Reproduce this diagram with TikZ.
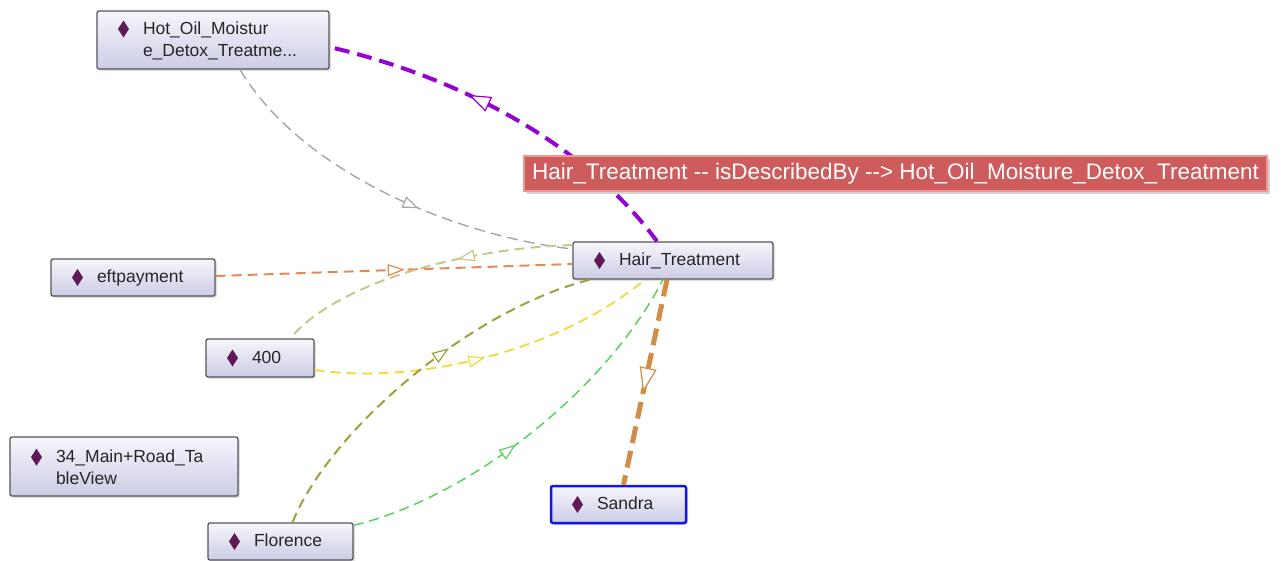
\documentclass[tikz,border=0pt]{standalone}
\usepackage{fontspec}
\setmainfont{Liberation Sans}
\usetikzlibrary{arrows.meta,decorations.markings,shadows}

\definecolor{diacol}{RGB}{95,25,85}
\definecolor{boxline}{RGB}{85,85,90}
\definecolor{boxtop}{RGB}{246,246,252}
\definecolor{boxbot}{RGB}{204,204,230}
\definecolor{selblue}{RGB}{20,20,240}
\definecolor{tipfill}{RGB}{206,92,92}
\definecolor{tipline}{RGB}{238,150,150}
\definecolor{cpurple}{RGB}{150,0,210}
\definecolor{cgray}{RGB}{165,165,165}
\definecolor{corange}{RGB}{226,140,85}
\definecolor{ckhaki}{RGB}{200,200,140}
\definecolor{cyellow}{RGB}{245,215,60}
\definecolor{colive}{RGB}{160,160,60}
\definecolor{cgreen}{RGB}{90,210,90}
\definecolor{cbrown}{RGB}{210,140,70}

% individual marker drawn in front of each label
\newcommand\dmd{\tikz[baseline=-5pt]\fill[diacol, sharp corners] (0pt,0pt)--(5.5pt,8.5pt)--(11pt,0pt)--(5.5pt,-8.5pt)--cycle;}
\newcommand\lead{\hspace*{21pt}\makebox[25pt][l]{\dmd}}

\tikzset{
  indiv/.style={rectangle, rounded corners=2pt, draw=boxline, line width=1.3pt,
    top color=boxtop, bottom color=boxbot,
    drop shadow={shadow xshift=2pt, shadow yshift=-2pt, opacity=0.25},
    inner xsep=0pt, inner ysep=0pt, align=left, text=black!85,
    font=\fontsize{17.5}{22}\selectfont},
  rel/.style 2 args={postaction=decorate, decoration={markings,
    mark=at position #1 with {\arrow{Triangle[#2, fill=white, line width=1.2pt]}}}},
  thin/.style={line width=1.6pt, dash pattern=on 10pt off 6pt},
}

\begin{document}
\begin{tikzpicture}[x=1pt, y=-1pt]
\useasboundingbox (0,0) rectangle (1282,560);

% individuals
\node[indiv, text width=232pt, minimum height=58pt] (hot) at (213,40)
  {\lead Hot\_Oil\_Moistur\\\hspace*{46pt}e\_Detox\_Treatme...};
\node[indiv, text width=200pt, minimum height=37pt] (ht) at (673,260.5) {\lead Hair\_Treatment};
\node[indiv, text width=164pt, minimum height=37pt] (eft) at (133,277.5) {\lead eftpayment};
\node[indiv, text width=108pt, minimum height=38pt] (n400) at (260,358) {\lead 400};
\node[indiv, text width=228pt, minimum height=59pt] (road) at (124,466.5)
  {\lead 34\_Main+Road\_Ta\\\hspace*{46pt}bleView};
\node[indiv, text width=145pt, minimum height=37pt] (flo) at (280.5,541.5) {\lead Florence};
\node[indiv, draw=selblue, line width=2.5pt, text width=135pt, minimum height=37pt] (san) at (618.5,504.5) {\lead Sandra};

% relations
\draw[cpurple, line width=4pt, dash pattern=on 15pt off 8pt, rel={0.62}{length=22pt, width=16pt}]
  ([xshift=-16pt]ht.north) .. controls (590,150) and (470,80) .. ([yshift=-7pt]hot.east);
\draw[cgray, line width=1.4pt, dash pattern=on 11pt off 6pt, rel={0.59}{length=16pt, width=12pt}]
  ([xshift=27pt]hot.south) .. controls (300,170) and (450,235) .. ([yshift=11.5pt]ht.west);
\draw[corange, thin, line width=2pt, rel={0.53}{length=17pt, width=12pt}]
  ([yshift=1.5pt]eft.east) -- ([yshift=-3.5pt]ht.west);
\draw[ckhaki, thin, line width=2pt, rel={0.38}{length=17pt, width=12pt}]
  ([yshift=15.5pt]ht.west) .. controls (470,248) and (340,280) .. ([xshift=30pt]n400.north);
\draw[cyellow, thin, line width=1.8pt, rel={0.49}{length=17pt, width=12pt}]
  ([yshift=-12pt]n400.east) .. controls (420,385) and (560,350) .. ([xshift=-28pt]ht.south);
\draw[colive, thin, line width=2pt, rel={0.60}{length=17pt, width=12pt}]
  ([xshift=12pt]flo.north) .. controls (330,430) and (470,310) .. ([xshift=-83pt]ht.south);
\draw[cgreen, thin, line width=1.5pt, rel={0.45}{length=17pt, width=12pt}]
  ([yshift=-3pt]flo.north east) .. controls (460,500) and (600,400) .. ([xshift=-10pt]ht.south);
\draw[cbrown, line width=5pt, dash pattern=on 17pt off 8pt, rel={0.55}{length=25pt, width=17pt}]
  ([xshift=-6pt]ht.south) -- ([xshift=5pt]san.north);

% hover label of the highlighted relation
\node[rectangle, fill=tipfill, draw=tipline, line width=1.5pt,
  drop shadow={shadow xshift=3pt, shadow yshift=-3pt, opacity=0.35},
  minimum width=743pt, minimum height=35pt, inner sep=0pt, text=white,
  font=\fontsize{22.5}{24}\selectfont] (tip) at (895.5,173.5)
  {Hair\_Treatment -{}- isDescribedBy -{}-> Hot\_Oil\_Moisture\_Detox\_Treatment};
\end{tikzpicture}
\end{document}
